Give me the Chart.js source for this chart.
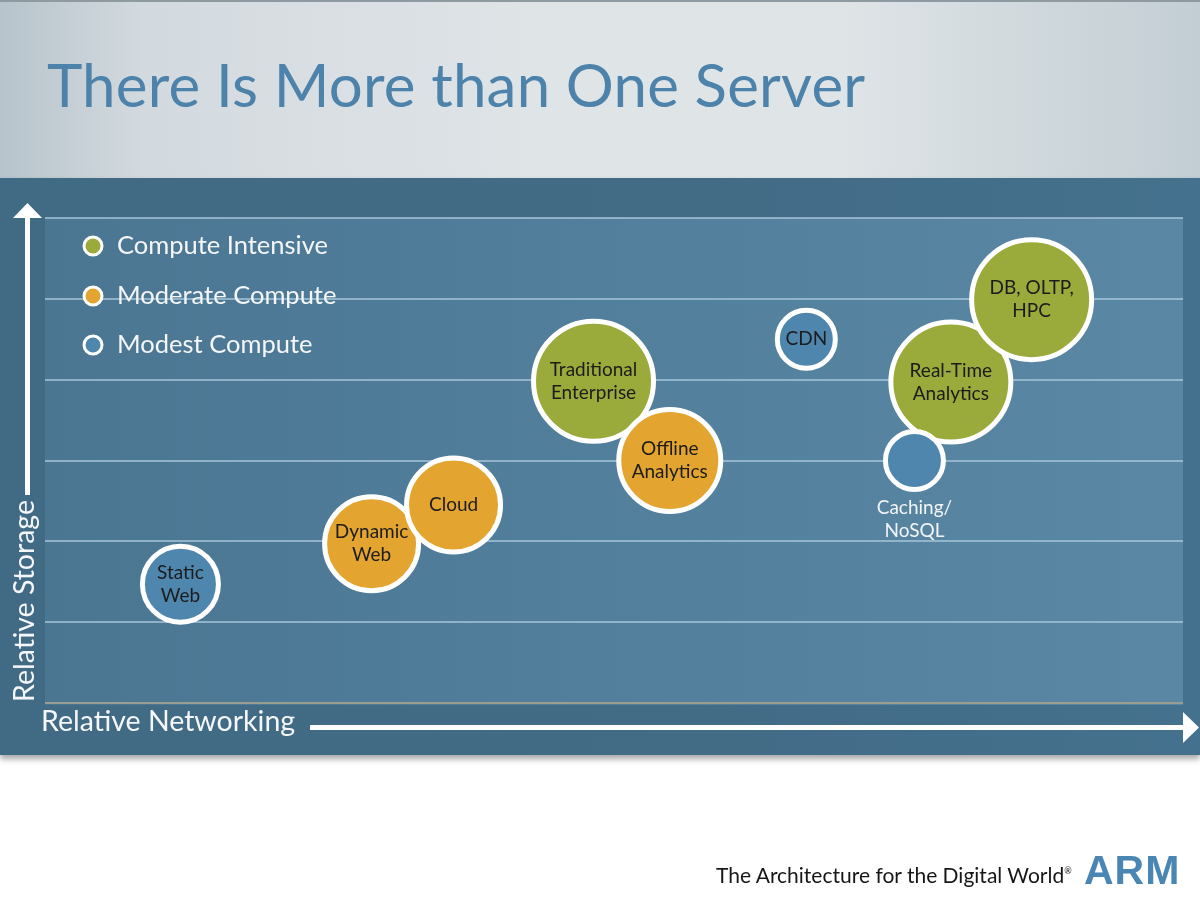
<!DOCTYPE html>
<html>
<head>
<meta charset="utf-8">
<script src="https://cdn.jsdelivr.net/npm/chart.js@4.4.1/dist/chart.umd.min.js"></script>
<style>
  html, body { margin: 0; padding: 0; background: #ffffff; }
  #page { position: relative; width: 1200px; height: 900px; overflow: hidden; font-family: Lato, "Open Sans", sans-serif; }
  #band {
    position: absolute; left: 0; top: 0; width: 1200px; height: 178px;
    background: linear-gradient(90deg, #b7c4cb 0%, #d3dadf 12%, #dfe4e7 45%, #dfe4e7 70%, #c3ced4 100%);
    border-top: 2px solid #8f9aa0; box-sizing: border-box;
  }
  #title {
    position: absolute; left: 47px; top: 48px; font-size: 60px; color: #4d82aa;
    letter-spacing: 0.2px; white-space: nowrap;
  }
  #panel {
    position: absolute; left: 0; top: 178px; width: 1200px; height: 577px;
    background: linear-gradient(90deg, #416a85 0%, #426b86 60%, #44718d 100%);
    box-shadow: 0 4px 6px rgba(0,0,0,0.35);
  }
  #wrap { position: absolute; left: 0; top: 0; width: 1200px; height: 900px; }
  #footer {
    position: absolute; left: 716px; top: 862px; font-size: 21px; color: #161616; white-space: nowrap;
  }
  #footer sup { font-size: 9px; vertical-align: 9px; }
  #arm {
    position: absolute; left: 1084px; top: 847px; font-size: 41px; font-weight: 900; color: #4a86b4;
    font-family: "Liberation Sans", Arial, sans-serif; letter-spacing: 1px;
  }
</style>
</head>
<body>
<div id="page">
  <div id="band"></div>
  <div id="title">There Is More than One Server</div>
  <div id="panel"></div>
  <div id="wrap"><canvas id="serverChart"></canvas></div>
  <div id="footer">The Architecture for the Digital World<sup>®</sup></div>
  <div id="arm">ARM</div>
</div>
<script>
// groups shown in the legend
const groups = ['Compute Intensive', 'Moderate Compute', 'Modest Compute'];

// Compute Intensive
const intensiveNames = [['Traditional', 'Enterprise'], ['Real-Time', 'Analytics'], ['DB, OLTP,', 'HPC']];
const intensiveNet = [48.2, 79.6, 86.7];
const intensiveStorage = [3.98, 3.97, 4.99];
const intensiveSize = [60, 60, 60];

// Moderate Compute
const moderateNames = [['Dynamic', 'Web'], ['Cloud'], ['Offline', 'Analytics']];
const moderateNet = [28.7, 35.9, 54.9];
const moderateStorage = [1.97, 2.45, 3.0];
const moderateSize = [47, 47, 51];

// Modest Compute
const modestNames = [['Static', 'Web'], ['CDN'], ['Caching/', 'NoSQL']];
const modestNet = [11.9, 66.9, 76.4];
const modestStorage = [1.47, 4.5, 3.0];
const modestSize = [38, 29, 29];

const storageTicks = [0, 1, 2, 3, 4, 5, 6];

const green = '#9aab3b';
const orange = '#e3a52f';
const blue = '#4f86ae';

function points(net, storage, size) {
  return net.map(function (v, i) { return { x: v, y: storage[i], r: size[i] }; });
}

const areaBg = {
  id: 'areaBg',
  beforeDraw: function (chart) {
    const a = chart.chartArea;
    const c = chart.ctx;
    const g = c.createLinearGradient(a.left, 0, a.right, 0);
    g.addColorStop(0, '#4a7692');
    g.addColorStop(0.5, '#527f9c');
    g.addColorStop(1, '#5a87a3');
    c.save();
    c.fillStyle = g;
    c.fillRect(a.left, a.top, a.right - a.left, a.bottom - a.top + 2);
    c.restore();
  }
};

const bubbleLabels = {
  id: 'bubbleLabels',
  afterDatasetsDraw: function (chart) {
    const c = chart.ctx;
    c.save();
    c.font = '19px Lato, "Open Sans", sans-serif';
    c.textAlign = 'center';
    c.textBaseline = 'middle';
    chart.data.datasets.forEach(function (ds, di) {
      const meta = chart.getDatasetMeta(di);
      meta.data.forEach(function (pt, i) {
        const lines = ds.names[i];
        if (lines[0] === 'Caching/') {
          c.fillStyle = '#f2f5f7';
          c.fillText(lines[0], pt.x, pt.y + 47);
          c.fillText(lines[1], pt.x, pt.y + 70);
          return;
        }
        c.fillStyle = '#1c1c1c';
        const h = 23;
        const y0 = pt.y - (lines.length - 1) * h / 2;
        lines.forEach(function (t, k) { c.fillText(t, pt.x, y0 + k * h); });
      });
    });
    c.restore();
  }
};

const sideParts = {
  id: 'sideParts',
  afterDraw: function (chart) {
    const c = chart.ctx;
    c.save();
    // legend
    const cols = [green, orange, blue];
    const ly = [246, 296, 345];
    c.font = '25.5px Lato, "Open Sans", sans-serif';
    c.textBaseline = 'middle';
    c.textAlign = 'left';
    groups.forEach(function (g, i) {
      c.beginPath();
      c.arc(93, ly[i], 9, 0, Math.PI * 2);
      c.fillStyle = cols[i];
      c.fill();
      c.lineWidth = 3;
      c.strokeStyle = '#ffffff';
      c.stroke();
      c.fillStyle = '#f4f6f8';
      c.fillText(g, 117, ly[i]);
    });
    // axis arrows
    c.fillStyle = '#ffffff';
    c.fillRect(25, 214, 5, 281);
    c.beginPath();
    c.moveTo(27.5, 203); c.lineTo(42, 218); c.lineTo(13, 218); c.closePath();
    c.fill();
    c.fillRect(310, 725, 878, 5);
    c.beginPath();
    c.moveTo(1199, 727.5); c.lineTo(1183, 712); c.lineTo(1183, 743); c.closePath();
    c.fill();
    // axis titles
    c.fillStyle = '#f4f6f8';
    c.font = '28.5px Lato, "Open Sans", sans-serif';
    c.textBaseline = 'middle';
    c.fillText('Relative Networking', 41, 722);
    c.translate(25, 601);
    c.rotate(-Math.PI / 2);
    c.textAlign = 'center';
    c.fillText('Relative Storage', 0, 0);
    c.restore();
  }
};

const ctx = document.getElementById('serverChart');

const serverChart = new Chart(ctx, {
  type: 'bubble',
  data: {
    datasets: [
      {
        label: groups[2],
        names: modestNames,
        data: points(modestNet, modestStorage, modestSize),
        backgroundColor: blue,
        borderColor: '#ffffff',
        borderWidth: 5,
        order: 1
      },
      {
        label: groups[1],
        names: moderateNames,
        data: points(moderateNet, moderateStorage, moderateSize),
        backgroundColor: orange,
        borderColor: '#ffffff',
        borderWidth: 5,
        order: 2
      },
      {
        label: groups[0],
        names: intensiveNames,
        data: points(intensiveNet, intensiveStorage, intensiveSize),
        backgroundColor: green,
        borderColor: '#ffffff',
        borderWidth: 5,
        order: 3
      }
    ]
  },
  options: {
    responsive: true,
    maintainAspectRatio: false,
    animation: false,
    events: [],
    clip: false,
    layout: { autoPadding: false, padding: { left: 45, top: 218, right: 17, bottom: 197 } },
    scales: {
      x: { display: false, min: 0, max: 100 },
      y: {
        min: 0,
        max: 6,
        afterBuildTicks: function (axis) {
          axis.ticks = storageTicks.map(function (v) { return { value: v }; });
        },
        afterFit: function (axis) { axis.width = 0; },
        ticks: { display: false },
        border: { display: false },
        grid: {
          drawTicks: false,
          lineWidth: 2,
          color: function (c) { return c.tick.value === 0 ? '#9a9d92' : 'rgba(165,198,218,0.75)'; }
        }
      }
    },
    plugins: {
      legend: { display: false },
      tooltip: { enabled: false }
    }
  },
  plugins: [areaBg, bubbleLabels, sideParts]
});
</script>
</body>
</html>
